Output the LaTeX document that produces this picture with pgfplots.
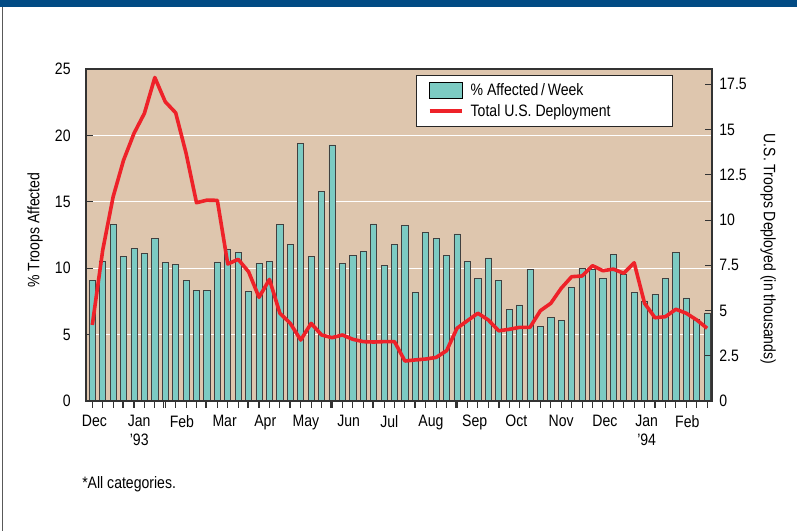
\documentclass[border=0pt]{standalone}
\usepackage{pgfplots}
\pgfplotsset{compat=1.18}
\usepackage{pgfplotstable}
\usepackage{fontspec}
\setmainfont{Liberation Sans}[FakeStretch=0.85]
\definecolor{bg}{HTML}{DEC6AE}
\definecolor{barteal}{HTML}{7CCBC3}
\definecolor{linered}{HTML}{EE2229}
\definecolor{bandblue}{HTML}{024B84}
\newcommand\cf{\fontsize{12.4}{14.5}\selectfont}

\pgfplotstableread{
x y
1 9.06
2 10.52
3 13.28
4 10.87
5 11.52
6 11.12
7 12.22
8 10.42
9 10.27
10 9.11
11 8.33
12 8.33
13 10.47
14 11.42
15 11.2
16 8.26
17 10.37
18 10.52
19 13.28
20 11.8
21 19.4
22 10.87
23 15.79
24 19.28
25 10.37
26 10.94
27 11.27
28 13.33
29 10.19
30 11.8
31 13.25
32 8.16
33 12.68
34 12.22
35 10.94
36 12.58
37 10.52
38 9.26
39 10.77
40 9.09
41 6.9
42 7.23
43 9.92
44 5.62
45 6.3
46 6.05
47 8.53
48 9.96
49 9.92
50 9.26
51 11.04
52 9.56
53 8.18
54 7.53
55 8.03
56 9.24
57 11.2
58 7.76
59 6.15
60 6.63
}\bars

\pgfplotstableread{
x y
1 4.20
2 8.34
3 11.29
4 13.31
5 14.79
6 15.90
7 17.88
8 16.54
9 15.93
10 13.69
11 10.96
12 11.10
13 11.09
14 7.57
15 7.83
16 7.14
17 5.73
18 6.72
19 4.85
20 4.29
21 3.37
22 4.29
23 3.65
24 3.50
25 3.65
26 3.41
27 3.28
28 3.26
29 3.28
30 3.28
31 2.21
32 2.27
33 2.32
34 2.41
35 2.78
36 4.02
37 4.44
38 4.85
39 4.48
40 3.88
41 3.96
42 4.07
43 4.07
44 4.99
45 5.40
46 6.23
47 6.87
48 6.91
49 7.48
50 7.20
51 7.29
52 7.06
53 7.64
54 5.40
55 4.60
56 4.66
57 5.07
58 4.85
59 4.48
60 4.02
}\troops

\begin{document}
\begin{tikzpicture}
\useasboundingbox (0,0) rectangle (597.75pt,398.25pt);
\fill[white] (0,0) rectangle (597.75pt,398.25pt);
\fill[bandblue] (0,393pt) rectangle (597.75pt,398.25pt);
\draw[black!65, line width=1.1pt] (1.9pt,0) -- (1.9pt,393pt);
\node[anchor=base west, font=\cf, inner sep=0pt] at (61.5pt,31.5pt) {*All categories.};

\begin{axis}[
  at={(64.5pt,97.5pt)}, anchor=south west,
  scale only axis, width=469.5pt, height=249pt,
  xmin=0.395, xmax=60.47, ymin=0, ymax=25,
  axis background/.style={fill=bg},
  axis line style={black!80, line width=0.9pt},
  tick style={black!80, line width=0.8pt},
  tick align=inside,
  major tick length=5pt,
  ytick={0,5,10,15,20,25}, ytick pos=left,
  yticklabel style={font=\cf, xshift=-8pt},
  /pgf/number format/assume math mode=true,
  ymajorgrids, grid style={white, line width=0.8pt},
  xtick={1,...,60}, xticklabels={}, xtick pos=left,
  extra x ticks={1.2,5.5,9.6,13.7,17.6,21.5,25.6,29.5,33.5,37.7,41.7,46.0,50.2,54.2,58.1},
  extra x tick labels={Dec,{Jan\\'93},Feb,Mar,Apr,May,Jun,Jul,Aug,Sep,Oct,Nov,Dec,{Jan\\'94},Feb},
  extra x tick style={major tick length=0pt},
  xticklabel style={font=\cf, align=center, yshift=-7pt},
  every axis y label/.style={at={(axis description cs:-0.0815,0.515)}, rotate=90, anchor=center, font=\cf},
  ylabel={\% Troops Affected},
  ybar, bar width=4.6pt,
]
\addplot[fill=barteal, draw=black!75, line width=0.55pt] table[x=x,y=y]{\bars};
\end{axis}

\begin{axis}[
  at={(64.5pt,97.5pt)}, anchor=south west,
  scale only axis, width=469.5pt, height=249pt,
  xmin=0.395, xmax=60.47, ymin=0, ymax=18.35,
  axis y line*=right, axis x line*=bottom,
  axis line style={-, black!80, line width=0.9pt},
  tick style={black!80, line width=0.8pt},
  ytick={0,2.5,5,7.5,10,12.5,15,17.5},
  ytick align=inside, xtick align=outside,
  major tick length=5.2pt,
  xtick={3.88,7.85,11.88,15.88,19.91,23.88,27.87,31.97,35.88,40.03,44.03,48.0,51.96,56.03},
  xticklabels={},
  yticklabel style={font=\cf, xshift=2pt, /pgf/number format/fixed, /pgf/number format/precision=1},
  /pgf/number format/assume math mode=true,
  every axis y label/.style={at={(axis description cs:1.0895,0.458)}, rotate=-90, anchor=center, font=\cf},
  ylabel={U.S. Troops Deployed (in thousands)},
  legend style={at={(rel axis cs:0.527,0.982)}, anchor=north west, draw=black!85, line width=0.8pt, fill=white, font=\cf, inner xsep=8.5pt, inner ysep=4pt, nodes={inner sep=2pt}, column sep=3.5pt, row sep=1pt},
  legend cell align=left,
]
\addlegendimage{legend image code/.code={\draw[fill=barteal, draw=black, line width=0.8pt] (0pt,-6pt) rectangle (24.75pt,6pt);}}
\addlegendentry{\% Affected\,/\,Week}
\addplot[linered, line width=2.7pt, line join=round, mark=none, legend image code/.code={\draw[linered, line width=2.7pt] (0pt,0pt) -- (24pt,0pt);}] table[x=x,y=y]{\troops};
\addlegendentry{Total U.S. Deployment\hspace*{36pt}}
\end{axis}
\end{tikzpicture}
\end{document}
